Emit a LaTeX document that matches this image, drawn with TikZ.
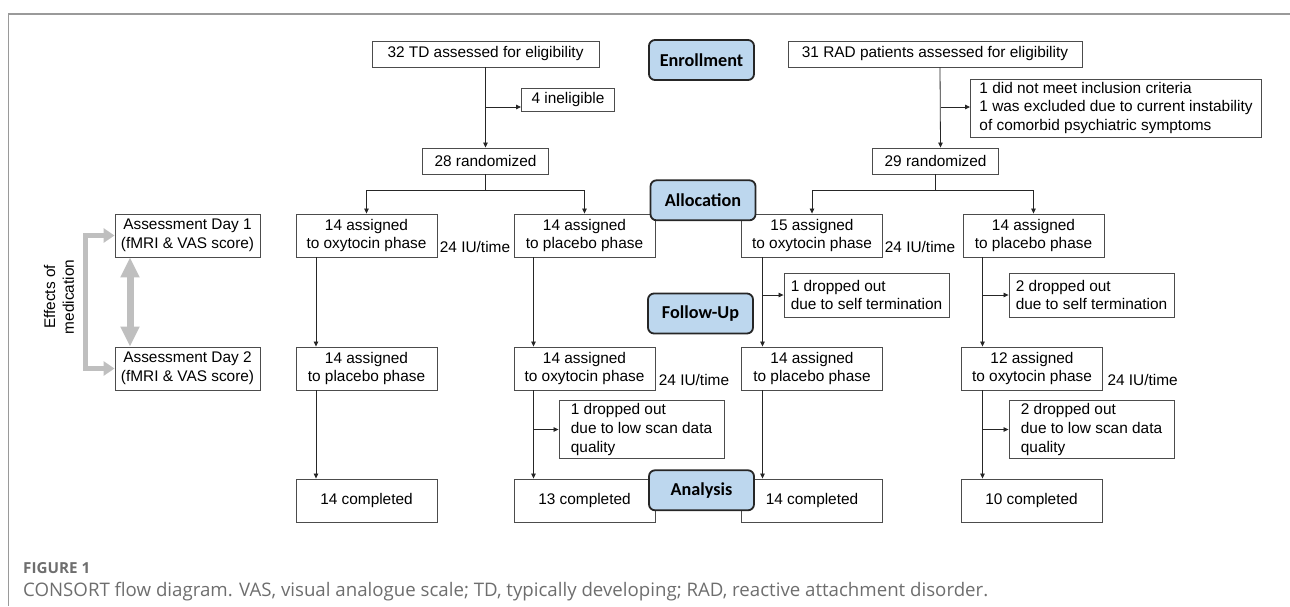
\documentclass[tikz,border=0pt]{standalone}
\usepackage{graphicx}
\usepackage{fontspec}
\setmainfont{Liberation Sans}
\newfontfamily\lblfamily{Carlito}
\newfontfamily\capfamily{Open Sans}
\usetikzlibrary{arrows.meta}
\definecolor{lblue}{HTML}{BDD7EE}
\definecolor{framegray}{HTML}{9A9A9A}
\definecolor{arrgray}{HTML}{BFBFBF}
\definecolor{capgray}{HTML}{6E6E6E}
\begin{document}
\begin{tikzpicture}[x=1pt,y=-1pt,
  box/.style={draw=black!70, line width=0.9pt, fill=white, inner sep=0pt, align=center,
    font=\fontsize{15.4}{18.7}\selectfont},
  lbox/.style={box, align=left},
  row/.style={box, minimum width=141pt, minimum height=43pt},
  drop/.style={lbox, minimum width=165pt},
  stage/.style={draw=black!85, line width=1.8pt, rounded corners=6pt, fill=lblue,
    minimum width=105pt, minimum height=40pt, inner sep=0pt,
    font=\lblfamily\bfseries\fontsize{18.2}{20}\selectfont},
  arr/.style={draw=black!85, line width=0.8pt, -{Triangle[length=5pt,width=4.5pt]}},
  dose/.style={inner sep=0pt, anchor=base, font=\fontsize{15.4}{18.7}\selectfont},
  garr/.style={draw=arrgray, line width=5pt,
    {Triangle[length=11pt,width=14pt]}-{Triangle[length=11pt,width=14pt]}},
  garrb/.style={draw=arrgray, line width=7pt,
    {Triangle[length=20pt,width=18pt]}-{Triangle[length=20pt,width=18pt]}},
]
\useasboundingbox (0,0) rectangle (1290,606);
\draw[framegray, line width=1.5pt] (1290,14) -- (8.5,14) -- (8.5,606);

% enrollment
\node[box, minimum width=227pt, minimum height=26pt] (td) at (485.5,54) {32 TD assessed for eligibility};
\node[box, minimum width=294pt, minimum height=26pt] (rad) at (935,54) {31 RAD patients assessed for eligibility};
\node[box, minimum width=93pt, minimum height=23pt] (inel) at (568,99.5) {4 ineligible};
\node[lbox, minimum width=291pt, minimum height=58pt] (excl) at (1116,108) {1 did not meet inclusion criteria\\1 was excluded due to current instability\\of comorbid psychiatric symptoms};
\node[box, minimum width=126pt, minimum height=26pt] (tdr) at (485.5,161) {28 randomized};
\node[box, minimum width=126pt, minimum height=26pt] (radr) at (935.6,161) {29 randomized};

% allocation row
\node[box, minimum width=145pt, minimum height=43pt] (day1) at (187.5,235.5) {Assessment Day 1\\(fMRI \& VAS score)};
\node[row] (td1) at (366.5,235.5) {14 assigned\\to oxytocin phase};
\node[row] (td2) at (584.5,235.5) {14 assigned\\to placebo phase};
\node[row] (rad1) at (812,235.5) {15 assigned\\to oxytocin phase};
\node[row] (rad2) at (1033.5,235.5) {14 assigned\\to placebo phase};
\node[dose] (dose1) at (475,252) {24 IU/time};
\node[dose] (dose2) at (920,252) {24 IU/time};

% follow-up
\node[drop, minimum height=44pt] (rad1d) at (866.5,295) {1 dropped out\\due to self termination};
\node[drop, minimum height=44pt] (rad2d) at (1091.5,295) {2 dropped out\\due to self termination};
\node[box, minimum width=145pt, minimum height=43pt] (day2) at (187.5,368.5) {Assessment Day 2\\(fMRI \& VAS score)};
\node[row] (td1b) at (366.5,368.5) {14 assigned\\to placebo phase};
\node[row] (td2b) at (584.5,368.5) {14 assigned\\to oxytocin phase};
\node[row] (rad1b) at (812,368.5) {14 assigned\\to placebo phase};
\node[row] (rad2b) at (1032,368.5) {12 assigned\\to oxytocin phase};
\node[dose] (dose3) at (694,385) {24 IU/time};
\node[dose] (dose4) at (1142.6,385) {24 IU/time};
\node[drop, minimum height=57.6pt] (td2s) at (641.5,429.5) {1 dropped out\\due to low scan data\\quality};
\node[drop, minimum height=57.6pt] (rad2s) at (1091.5,429.5) {2 dropped out\\due to low scan data\\quality};

% analysis
\node[row] (td1c) at (366.5,500.5) {14 completed};
\node[row] (td2c) at (584.5,500.5) {13 completed};
\node[row] (rad1c) at (812,500.5) {14 completed};
\node[row] (rad2c) at (1031.5,500.5) {10 completed};

% connectors
\coordinate (j1) at (485.5,107);
\coordinate (j2) at (940.5,107);
\draw[arr] (td.south) -- (tdr.north);
\draw[arr] (j1) -- (j1 -| inel.west);
\draw[arr] ([xshift=5pt]rad.south) -- ([xshift=4.9pt]radr.north);
\draw[arr] (j2) -- (j2 -| excl.west);
\draw[arr] (tdr.south) -- ++(0,16) -| (td1.north);
\draw[arr] (tdr.south) -- ++(0,16) -| (td2.north);
\draw[arr] (radr.south) -- ++(0,16) -| (rad1.north);
\draw[arr] (radr.south) -- ++(0,16) -| (rad2.north);

\coordinate (x1) at (316,0);
\coordinate (x2) at (533.5,0);
\coordinate (x3) at (762.5,0);
\coordinate (x4) at (982.5,0);
\draw[arr] (td1.south -| x1) -- (td1b.north -| x1);
\draw[arr] (td1b.south -| x1) -- (td1c.north -| x1);
\draw[arr] (td2.south -| x2) -- (td2b.north -| x2);
\draw[arr] (td2b.south -| x2) -- (td2c.north -| x2);
\draw[arr] (td2s.west -| x2) -- (td2s.west);
\draw[arr] (rad1.south -| x3) -- (rad1b.north -| x3);
\draw[arr] (rad1b.south -| x3) -- (rad1c.north -| x3);
\draw[arr] (rad1d.west -| x3) -- (rad1d.west);
\draw[arr] (rad2.south -| x4) -- (rad2b.north -| x4);
\draw[arr] (rad2b.south -| x4) -- (rad2c.north -| x4);
\draw[arr] (rad2d.west -| x4) -- (rad2d.west);
\draw[arr] (rad2s.west -| x4) -- (rad2s.west);

% effects of medication
\draw[garr] (day1.west) -- (85,235.5) -- (85,368.5) -- (day2.west);
\draw[garrb] ([xshift=-57.5pt]day1.south) -- ([xshift=-57.5pt]day2.north);
\node[rotate=90, align=center, inner sep=0pt, font=\fontsize{15.4}{18.7}\selectfont] (eff) at (59,297) {Effects of\\medication};

% stage labels
\node[stage] (enr) at (701.5,60) {Enrollment};
\node[stage] (alloc) at (703,200.3) {Allocation};
\node[stage] (fup) at (700.5,313.5) {Follow-Up};
\node[stage] (ana) at (701.5,490.3) {Analysis};

% caption
\node[anchor=base west, inner sep=0pt, text=capgray] (fig) at (23,573) {\resizebox{67pt}{!}{\capfamily\bfseries FIGURE 1}};
\node[anchor=base west, inner sep=0pt, text=capgray] (cap) at (23,596.7) {\resizebox{965pt}{!}{\capfamily CONSORT flow diagram. VAS, visual analogue scale; TD, typically developing; RAD, reactive attachment disorder.}};
\end{tikzpicture}
\end{document}
